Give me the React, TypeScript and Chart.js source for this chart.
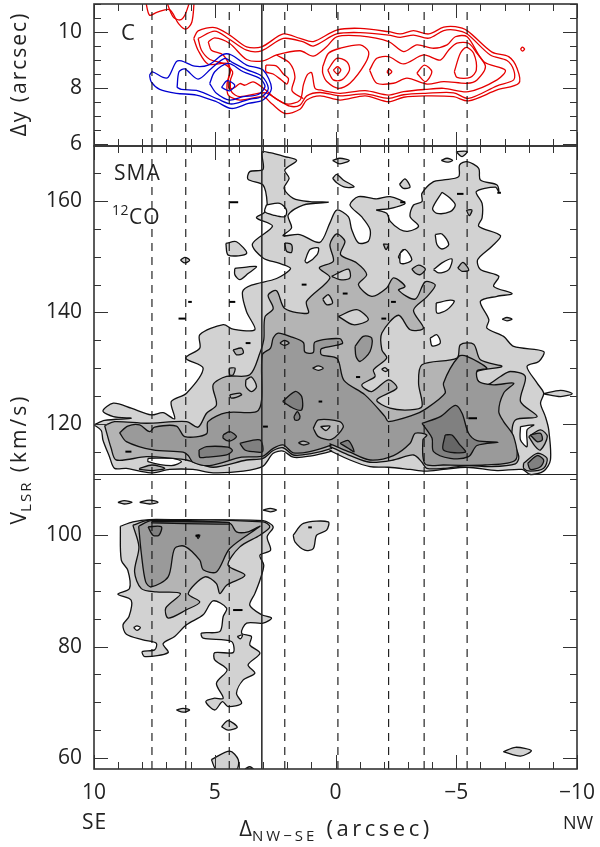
import React, { useEffect, useRef } from "react";
import { Chart, registerables } from "chart.js";

Chart.register(...registerables);

type P = number[];
type Poly = number[][];

const xMajor = [10, 5, 0, -5, -10];
const velocityTicks = [60, 80, 100, 120, 140, 160];
const offsetTicks = [6, 8, 10];
const channelOffsets = [7.6, 6.2, 4.4, 2.1, -0.1, -2.2, -3.67, -5.45];
const sourceOffset = 3.05;
const systemicVelocity = 110.9;

const lightMain: Poly = [
  [10, 119.8], [9.56, 120.6], [8.46, 121], [9.2, 121.3], [9.63, 122.3], [9.2, 123.7], [8.46, 122.8], [7.63, 121.6], [7.14, 122], [6.66, 120.9], [6.8, 124], [6.17, 125.5], [5.48, 130], [6.2, 131.8], [5.62, 133.6], [5.62, 136], [4.65, 137.8], [4.24, 137], [3.34, 136.9], [3.68, 140.1], [3.85, 143.7], [3.48, 144.9], [2.44, 146.1], [1.86, 147.9], [2.31, 148.8], [3, 149.8], [3.44, 152.3], [2.61, 155.5], [3.27, 157], [2.93, 158], [2.83, 159.6], [3, 162.9], [3.62, 163.9], [3.55, 165.3], [3, 165.7], [3.04, 168.8], [2.72, 168.7], [2.1, 168], [1.61, 167.3], [2.1, 165.6], [1.92, 164.1], [2.13, 162.3], [1.75, 160.5], [1.06, 159.9], [0.3, 159.8], [1.34, 159.3], [1.96, 157.5], [1.82, 155.2], [2.17, 153.8], [1.48, 154], [0.65, 152.6], [0.23, 156.1], [-0.05, 158.4], [-0.53, 157.2], [-0.67, 154.9], [-0.95, 152.5], [-1.36, 152.8], [-1.43, 154.9], [-1.08, 157.2], [-0.6, 159.3], [-0.95, 160.8], [-1.7, 160.4], [-2.26, 160.8], [-2.88, 159.6], [-2.19, 158.6], [-1.7, 158.4], [-2.12, 157.8], [-2.26, 156.4], [-2.67, 154.9],
  [-3.03, 154.6], [-3.44, 155.5], [-3.09, 157.2], [-3.23, 159.3], [-3.58, 159.9], [-3.58, 161.4], [-4.06, 163.5], [-4.48, 163.8], [-5.1, 164.4], [-5.14, 166.5], [-5.45, 167.1], [-5.93, 165.9], [-6, 163.8], [-6.69, 162.9], [-6.76, 161.7], [-6.62, 162.5], [-5.83, 161.7], [-6.07, 159.6], [-6.07, 157], [-5.93, 155.5], [-6.83, 153.8], [-6.48, 151.9], [-5.89, 149.5], [-6, 147.7], [-6.76, 146.5], [-6.55, 144.7], [-7.31, 143.4], [-6.69, 142.9], [-6, 142], [-6.35, 138.7],
  [-6.27, 137.2], [-6.96, 135.7], [-7.38, 133.9], [-8.62, 133], [-8.42, 131.2], [-7.93, 130.3], [-8.35, 127.3], [-8.62, 125.5], [-8.49, 123.7], [-8.69, 121.3], [-8.83, 118.9], [-8.9, 113.5], [-8.62, 111.5], [-8.07, 110.9], [-7.73, 111.8], [-6.69, 111.6], [-5.44, 112.2], [-4.47, 111.8], [-3.71, 111.5], [-3.09, 111.8], [-2.19, 112.2], [-1.43, 112.3], [-0.6, 113.5], [0.23, 115.2], [0.16, 115.1], [1.06, 114.2], [1.75, 114], [2.17, 115.1], [2.58, 114.7], [3, 112.4], [3.82, 111.5], [5.07, 111.2], [5.9, 111.8], [6.87, 111.8], [7.56, 111.2], [8.11, 111.5], [8.66, 112], [9.15, 112], [9.36, 114.1], [9.63, 117.1], [9.7, 118.8],
];
const midMain: Poly = [
  [9.56, 119.7], [9.15, 120.4], [7.83, 120.1], [6.17, 120.4], [5.69, 119.4], [5.34, 121.9], [4.93, 123.4], [5.07, 127], [4.51, 128.5], [3.55, 128.8], [3.13, 132.7], [2.97, 135.1], [2.92, 139.2], [2.58, 140.7], [2.79, 143.1], [2.44, 143.9], [2.1, 140.7], [1.13, 139.9], [1.2, 142], [0.23, 146.2], [0.67, 148], [0.09, 149.2], [0.23, 152.2], [-0.05, 154.1], [-0.39, 152.8], [-0.21, 150.4], [-0.88, 148.9], [-1.29, 146.8], [-0.95, 145], [-1.5, 142.9], [-2.12, 144.4], [-2.4, 146.2], [-2.88, 144.7], [-2.61, 144], [-3.3, 142.4], [-3.71, 145.5], [-4.13, 144.9], [-3.78, 142.8], [-3.23, 140.4], [-3.64, 137.2], [-3.09, 136.9], [-2.61, 139.5], [-1.92, 136.3], [-1.92, 133.3], [-2.12, 131.8], [-1.57, 129.7], [-1.64, 128.5], [-1.09, 127], [-1.5, 125.8], [-2.19, 127.9], [-2.54, 126.4], [-1.71, 124.3], [-2.26, 122.8], [-3.09, 122.5], [-3.58, 123.1], [-3.44, 127.3], [-3.58, 130.6], [-5.03, 131.8], [-5.17, 134.2], [-5.72, 134.3], [-6, 131.5], [-6.89, 130.3], [-5.86, 129.4], [-5.86, 127.9], [-6.27, 127], [-6.83, 128.5], [-7.24, 129.4], [-7.86, 128.5], [-7.66, 124], [-8.35, 121.3], [-7.45, 120.7], [-7.31, 117.7], [-7.59, 114.1], [-7.45, 112.8], [-6.41, 112.3], [-5.44, 112.5], [-4.47, 112], [-3.78, 112], [-3.58, 113.1], [-3.23, 114.4], [-2.4, 113.5], [-1.43, 113.1], [-0.6, 114.3], [0.23, 115.9], [0.16, 115.6], [1.06, 114.6], [1.75, 114.4], [2.17, 115.7], [2.58, 115.2], [3, 113.8], [3.68, 113.5], [5.07, 112.2], [6.17, 113.5], [6.73, 113.8], [7.83, 114.1], [9.08, 113.5], [9.29, 115.6],
];
const darkMain: Poly = [
  [8.94, 118.4], [8.6, 119.6], [8.11, 119.8], [7.7, 118.6], [7.49, 119.4], [6.59, 119.6], [6.24, 117.7], [5.34, 118.2], [5.28, 120.4], [4.51, 122], [3.27, 122.2], [3.06, 124.3], [3.03, 132.4], [2.69, 133.6], [2.58, 135.4], [2.37, 136.3], [1.89, 135.7], [1.33, 134.6], [1.27, 132.9], [0.92, 132.8], [0.85, 134.7], [-0.18, 135.3], [-0.28, 134.4], [0.58, 133.5], [0.58, 132.4], [-0.07, 131.7], [-0.35, 127.8], [-1.22, 125.2], [-2.05, 121.3], [-2.19, 120.4], [-3.23, 121.6], [-3.71, 122.6], [-4.54, 125.5], [-4.47, 127.3], [-5.1, 132.1], [-5.44, 132.1], [-6.27, 130], [-5.86, 129.5], [-5.93, 127.6], [-6.55, 127], [-7.38, 127.3], [-6.96, 125.5], [-6.76, 122.2], [-6.96, 120.4], [-7.38, 117.7], [-7.45, 113.5], [-6.2, 112.6], [-4.47, 112.6], [-3.71, 112.8], [-3.62, 117.1], [-3.78, 118], [-3.3, 118.3], [-3.09, 116.5], [-2.4, 114.3], [-1.43, 113.5], [-0.6, 114.9], [0.23, 116.4], [0.16, 116.2], [1.06, 115], [1.75, 114.8], [2.17, 116.2], [2.58, 115.6], [3, 114.2], [3.89, 114], [5.21, 112.5], [5.9, 113.1], [6.1, 114.3], [6.31, 114.9], [7.56, 115.3], [8.66, 116.8],
];
const darkerMain: Poly[] = [
  [[5.65, 115.3], [5.34, 115.9], [4.45, 115.8], [4.27, 115.2], [4.51, 114.4], [5.34, 114], [5.62, 114]],
  [[3.96, 116.5], [3.13, 117.1], [3.02, 115], [3.41, 115], [3.75, 115.3]],
  [[4.65, 118], [4.38, 118.6], [4.1, 117.7], [4.38, 116.9], [4.65, 117.4]],
  [[2.19, 124], [1.68, 125.8], [1.4, 124.9], [1.4, 122.5], [1.75, 122.8]],
  [[1.72, 121.3], [1.58, 122.2], [1.47, 121.3], [1.54, 120.7], [1.68, 120.7]],
  [[-3.58, 120.1], [-4.34, 121.3], [-4.96, 123.3], [-5.24, 121.9], [-5.51, 118.3], [-5.86, 117], [-6.73, 116.7], [-5.86, 116.1], [-5.51, 114.1], [-4.75, 113.8], [-4.06, 115], [-4, 117.4], [-3.78, 118.9]],
  [[-0.19, 116.5], [-0.53, 117], [-0.77, 115], [-0.53, 115.6]],
  [[-8.07, 118], [-8.49, 118.3], [-8.56, 117.1], [-8.35, 116.8]],
  [[-7.96, 112.9], [-8.35, 114.3], [-8.62, 113.5], [-8.49, 112.3], [-8.07, 111.8]],
  [[7.76, 101.5], [7.21, 101.5], [7.31, 100], [7.56, 100]],
  [[5.76, 100], [5.62, 100], [5.69, 99.4]],
  [[7.6, 102.5], [4.4, 102.3], [4.4, 102], [7.6, 102.2]],
];
const darkestMain: Poly[] = [[[-4.54, 118], [-4.82, 118], [-5.1, 116.5], [-5.38, 114.9], [-4.47, 115.3]]];
const darkIslands: Poly[] = [
  [[-0.81, 133.9], [-1.15, 135.7], [-1.5, 135.4], [-1.43, 133], [-1.02, 131.2], [-0.85, 132.1]],
];
const midIslands: Poly[] = [
  [[4.4, 130], [4.16, 130], [4.24, 128.8], [4.38, 128.8]],
  [[4.38, 125.2], [3.96, 125.5], [3.89, 125.2], [4.31, 124.6]],
  [[4.24, 133.3], [3.89, 133.6], [3.82, 132.7], [4.1, 132.4]],
  [[2.1, 152.5], [1.82, 152.2], [1.82, 150.8], [2.03, 151]],
  [[-1.98, 152.3], [-2.19, 152.2], [-2.09, 151.3]],
  [[-3.16, 147.8], [-3.44, 148.5], [-3.72, 147.8], [-3.51, 146.8], [-3.3, 147.1]],
  [[-5.06, 148], [-5.28, 149], [-5.52, 147.6], [-5.24, 147.4]],
  [[-5.42, 158.4], [-5.65, 158.4], [-5.54, 157.4]],
  [[8.11, 112], [7.6, 112.6], [7.07, 112], [7.56, 111.6], [8.11, 111.8]],
  [[-8, 117.7], [-8.49, 118.9], [-8.77, 117.7], [-8.49, 115.3], [-8.28, 115.9]],
  [[-7.79, 112.9], [-8.35, 114.7], [-8.76, 113.8], [-8.62, 112], [-8.07, 111.5], [-7.79, 112]],
  [[0.92, 119.2], [0.71, 120.7], [-0.18, 120.4], [-0.32, 119.4], [0.16, 117.2], [0.71, 117.7]],
  [[2.3, 134.5], [2.12, 135], [1.92, 134.5], [2.12, 134.1]],
  [[1.54, 116.6], [1.34, 116.9], [1.09, 116.5], [1.34, 116.2]],
];
const lightIslands: Poly[] = [
  [[4.54, 152.4], [4.1, 152.7], [3.68, 150.6], [4.44, 150.3]],
  [[4.17, 147.9], [3.62, 148.2], [3.27, 148.2], [3.62, 147], [3.96, 145.9], [4.17, 146.8]],
  [[6.42, 149.4], [6.24, 149.9], [6.04, 149.4], [6.24, 148.9]],
  [[9.01, 105.9], [8.75, 106.2], [8.42, 105.9], [8.75, 105.6]],
  [[8.11, 105.9], [7.7, 106.3], [7.35, 105.9], [7.7, 105.6]],
  [[3, 104.5], [2.7, 104.8], [2.44, 104.5], [2.7, 104.2]],
  [[0.12, 167.3], [-0.18, 167.7], [-0.57, 167.3], [-0.18, 166.7]],
  [[0.12, 164.1], [-0.05, 164.8], [-0.32, 163.8], [-0.77, 162.6], [-0.39, 162.5], [-0.05, 163.3]],
  [[-2.65, 163], [-2.88, 164], [-3.09, 162.5], [-2.81, 162.3]],
  [[-4.38, 167.3], [-4.62, 167.7], [-4.85, 167.3], [-4.62, 167]],
  [[-4.99, 168.9], [-5.24, 168], [-5.45, 168.9]],
  [[3.71, 127.9], [3.48, 128.4], [3.27, 126.7], [3.48, 125.8], [3.71, 126.7]],
  [[0.53, 142.4], [0.3, 143.2], [0.12, 141.7], [0.37, 141.4]],
  [[0.16, 146.5], [-0.53, 147.8], [-0.6, 146.2], [-0.18, 145.9]],
  [[-0.12, 139.3], [-0.88, 140.5], [-1.36, 138.7], [-0.74, 137.8]],
  [[-6.9, 138.8], [-7.1, 139.1], [-7.31, 138.8], [-7.1, 138.5]],
  [[-8.62, 125.4], [-9.32, 126], [-9.8, 125.4], [-9.32, 124.9]],
  [[0.62, 119.5], [0.23, 119.6], [0.4, 118.8]],
  [[0.95, 130], [0.71, 130.4], [0.51, 130], [0.71, 129.6]],
  [[-1.91, 129.8], [-2.05, 130.1], [-2.16, 129.6], [-2.05, 129.4]],
  [[1.75, 100], [1.33, 102.1], [0.3, 102.4], [0.37, 100.9], [0.78, 100], [0.92, 97.6], [1.27, 97.3], [1.68, 98.8]],
  [[6.59, 68.6], [6.31, 68.9], [6.04, 68.6], [6.31, 68.2]],
  [[4.72, 65.6], [4.45, 66.7], [4.07, 65.5], [4.45, 65]],
  [[5.14, 59.7], [4.38, 61.2], [4.03, 59.7], [4.1, 57.9], [4.93, 57.9]],
  [[3.75, 58], [3.55, 58.4], [3.41, 58]],
  [[-6.95, 61.1], [-7.45, 61.9], [-8.11, 61.3], [-7.66, 60.3]],
];
const whiteHoles: Poly[] = [
  [[1.27, 149.2], [1.06, 151.3], [0.71, 151.6], [0.76, 150.4], [1.17, 148.9]],
  [[2.86, 159.3], [2.31, 159.6], [2.03, 158.4], [2.1, 157.2], [2.58, 157.5], [2.93, 158.1]],
  [[-2.6, 150], [-2.81, 151.3], [-3.09, 149.8], [-2.81, 148.8]],
  [[-4.41, 161.6], [-4.75, 160.5], [-4.96, 159.3], [-4.75, 158.1], [-4.2, 157.8], [-4.02, 158.7]],
  [[-4.13, 154], [-4.41, 154.1], [-4.69, 152.2], [-4.41, 151.4], [-4.2, 152.2]],
  [[-4.06, 147.7], [-4.41, 148.9], [-4.82, 149.6], [-4.69, 147.7], [-4.27, 147.1]],
  [[-2.68, 150.7], [-2.89, 151.3], [-3.16, 149.5], [-2.89, 148.8], [-2.68, 148.9]],
  [[-4.17, 141.7], [-4.75, 142.2], [-4.92, 142], [-4.62, 140.5], [-4.2, 139.9]],
  [[-3.92, 135.4], [-4.2, 136], [-4.34, 134.5], [-4, 134]],
  [[7.76, 113.8], [6.73, 113.8], [6.38, 113.2], [6.8, 112.5], [7.76, 113.2]],
  [[-7.66, 119.5], [-8.21, 119.8], [-7.93, 118.9], [-7.93, 115.9], [-7.66, 117.1]],
  [[8.36, 83.4], [8.22, 83.7], [8.08, 83.4], [8.22, 82.9]],
  [[4.07, 81.8], [3.85, 82.1], [3.93, 81.4]],
];
const lightLower: Poly = [
  [8.91, 101.6], [8.39, 102.4], [7.7, 102.8], [5.9, 102.7], [3, 102.6], [2.58, 101.5], [2.83, 99.7], [2.69, 97.3], [3.13, 96.4], [2.97, 94.6], [3.13, 91.9], [3.34, 89.5], [3.55, 87.4], [3.06, 85.7], [2.65, 85.1], [3, 84.2], [3.68, 84.2], [3.89, 82.4], [3.48, 81.8], [3.55, 80.3], [3.13, 78.8], [3.62, 76.7], [3.34, 75.2], [3.82, 74], [4.1, 71.6], [3.89, 69.8], [4.45, 69.2], [4.68, 70.1], [5, 68.6], [5.37, 70.1], [5.04, 70.7], [4.65, 70.7], [4.93, 73.4], [4.49, 75.8], [5, 77.6], [5, 78.9], [4.24, 78.9], [4.31, 80.9], [5.48, 81.5], [5.55, 82.4], [4.79, 82.7], [4.65, 85.4], [4.51, 86.9], [5.07, 88.2], [5.48, 85.7], [6.17, 83.9], [6.66, 81.8], [7.14, 80.5], [6.93, 78.9], [7.9, 78.2], [8, 79.1], [7.49, 79.4], [7.42, 80.6], [7.97, 81.2], [8.66, 82.2], [8.8, 83.9], [8.55, 85.4], [8.46, 88.3], [9.01, 89.4], [8.53, 90.4], [8.6, 93.7], [8.87, 95.5],
];
const midLower: Poly = [
  [8.39, 101.8], [7.7, 102.7], [3, 102.4], [2.72, 101.5], [3.13, 100], [3.96, 97.9], [4.45, 94.6], [3.75, 92.8], [4.51, 91], [4.79, 89.5], [4.93, 91.3], [5.41, 92.5], [6.1, 89.5], [5.62, 88], [6.17, 86.6], [6.93, 85.1], [7.03, 86.9], [6.42, 89.5], [7.42, 89.8], [8.04, 90.4], [8.32, 93.4], [8.14, 97.9],
];
const darkLower: Poly = [
  [8.15, 101.6], [7.63, 102.6], [4.38, 102.1], [4.1, 100.6], [3.62, 100.6], [3.13, 101.6], [4.38, 97.6], [4.93, 93.4], [5.48, 93.8], [5.62, 95.5], [6.24, 98], [6.66, 97.6], [6.93, 92.5], [7.63, 90.7], [7.86, 91.6], [8.04, 96.7],
];
const smallDashes: Poly[] = [
  [[4.38, 159.8], [4.03, 159.8]], [[6.1, 141.9], [5.95, 141.9]], [[4.4, 141.9], [4.15, 141.9]], [[6.5, 138.9], [6.2, 138.9]],
  [[3.72, 134.5], [3.52, 134.5]], [[8.7, 115], [8.45, 115]], [[1.4, 145], [1.2, 145]], [[-0.3, 143.4], [-0.5, 143.4]],
  [[-2.3, 141.9], [-2.5, 141.9]], [[-1.9, 138.9], [-2.1, 138.9]], [[-5.03, 161.3], [-5.3, 161.3]], [[-2.68, 159.8], [-2.89, 159.8]],
  [[0.7, 124], [0.55, 124]], [[3, 119.5], [2.8, 119.5]], [[-0.85, 128.4], [-1.02, 128.4]], [[-5.5, 121], [-5.86, 121]],
  [[1.13, 101.4], [0.98, 101.4]], [[4.24, 86.55], [3.85, 86.55]], [[-6.7, 161.5], [-6.85, 161.5]], [[5.8, 99.9], [5.65, 99.9]],
];

const redContours: Poly[] = [
  [[5.87, 9.77], [5.69, 10.04], [5, 10.16], [4.38, 9.89], [3.68, 9.47], [3.06, 9.47], [2.16, 9.93], [1.47, 9.77], [0.92, 9.66], [-0.05, 10.07], [-1.02, 10.13], [-2.2, 10.01], [-2.68, 9.93], [-3.23, 10.05], [-3.86, 9.93], [-4.48, 10.17], [-4.96, 10.19], [-5.45, 10.05], [-6.48, 9.28], [-7.17, 9.12], [-7.52, 8.7], [-7.59, 8.17], [-6.69, 7.93], [-5.51, 7.54], [-4.89, 7.69], [-3.72, 7.72], [-2.82, 7.67], [-2.2, 7.51], [-1.23, 7.72], [-0.19, 7.57], [0.64, 7.72], [1.19, 7.57], [1.47, 7.24], [2.09, 7.09], [2.65, 7.45], [3, 7.69], [3.96, 7.57], [4.44, 7.75], [4.49, 8.16], [4.38, 8.58], [4.49, 8.88], [5.27, 8.85], [5.69, 9.35]],
  [[5.69, 9.77], [5, 10.03], [4.44, 9.77], [3.68, 9.35], [3.06, 9.33], [2.16, 9.77], [1.33, 9.65], [0.92, 9.5], [-0.05, 9.93], [-1.02, 9.98], [-2.2, 9.89], [-2.68, 9.81], [-3.23, 9.89], [-3.86, 9.78], [-4.48, 10.05], [-4.96, 10.07], [-5.45, 9.93], [-6.41, 9.18], [-7.1, 8.98], [-7.38, 8.64], [-7.38, 8.29], [-6.69, 8.08], [-5.51, 7.63], [-4.89, 7.83], [-3.72, 7.81], [-2.82, 7.76], [-2.2, 7.63], [-1.23, 7.79], [-0.19, 7.72], [0.64, 7.84], [1.19, 7.72], [1.47, 7.39], [1.89, 7.35], [2.37, 7.57], [2.92, 7.83], [3.96, 7.69], [4.31, 7.87], [4.35, 8.28], [4.26, 8.58], [4.65, 8.88], [5.2, 9.02], [5.55, 9.35]],
  [[5.27, 9.65], [5, 9.79], [4.38, 9.59], [3.68, 9.02], [3, 8.97], [2.44, 9.18], [1.47, 9.33], [0.92, 9.14], [0.36, 9.48], [-0.05, 9.83], [-1.02, 9.86], [-2.2, 9.66], [-2.82, 9.3], [-3.37, 9.54], [-4.06, 9.42], [-4.62, 9.54], [-4.96, 9.83], [-5.45, 9.83], [-6.14, 8.94], [-7.03, 8.64], [-6.69, 8.29], [-5.51, 7.87], [-4.48, 7.99], [-3.72, 7.95], [-2.82, 7.87], [-2.2, 7.75], [-1.23, 7.91], [-0.19, 7.81], [0.64, 7.93], [0.85, 7.99], [0.99, 8.55], [1.17, 8.47], [1.33, 8.11], [1.47, 7.57], [2.02, 7.43], [2.58, 7.69], [2.92, 7.95], [3.41, 8.22], [3.75, 8.1], [3.96, 8.16], [4.17, 8.02], [4.4, 7.98], [4.44, 8.28], [4.35, 8.64], [4.65, 9.18], [5.14, 9.35]],
  [[2.88, 8.82], [2.44, 8.78], [2.16, 8.5], [1.95, 8.34], [2.02, 8.14], [2.23, 8.28], [2.58, 8.5], [2.88, 8.58]],
  [[0.53, 8.76], [0.29, 9.24], [-0.19, 9.42], [-1.02, 9.54], [-1.37, 9.3], [-1.23, 8.88], [-0.6, 8.17], [-0.12, 7.99], [0.36, 8.23], [0.53, 8.53]],
  [[0.32, 8.64], [-0.05, 9.06], [-0.47, 8.94], [-0.58, 8.64], [-0.26, 8.29], [0.09, 8.29]],
  [[0.09, 8.64], [-0.08, 8.76], [-0.22, 8.64], [-0.08, 8.5]],
  [[-1.41, 8.64], [-1.71, 9.06], [-2.2, 9.12], [-2.82, 8.86], [-3.65, 9.18], [-4.34, 9], [-4.69, 9.36], [-5.03, 9.6], [-5.51, 9.6], [-5.86, 9.24], [-6.21, 8.76], [-5.86, 8.29], [-5.45, 8.17], [-4.48, 8.23], [-3.79, 8.14], [-2.96, 8.35], [-2.4, 8.17], [-1.71, 8.17]],
  [[-4.92, 8.58], [-5.17, 9.24], [-5.42, 9.45], [-5.72, 9.24], [-5.83, 8.64], [-5.58, 8.38], [-5.03, 8.38]],
  [[-3.37, 8.53], [-3.68, 8.82], [-3.99, 8.58], [-3.72, 8.23]],
  [[-2.13, 8.58], [-2.22, 8.67], [-2.33, 8.58], [-2.22, 8.49]],
  [[-7.66, 9.39], [-7.74, 9.46], [-7.83, 9.39], [-7.74, 9.32]],
];
const redOpen: Poly[] = [
  [[7.86, 11.1], [7.7, 10.6], [7.4, 10.7], [6.87, 10.8], [6.5, 10.3], [6.2, 10.1], [5.95, 10.35], [5.85, 11.1]],
  [[7, 11.1], [6.73, 10.55], [6.45, 10.43], [6.24, 10.6], [6.03, 11.1]],
  [[2.44, 9.18], [1.89, 8.88], [1.68, 8.4], [1.8, 7.9], [1.33, 7.62]],
];
const blueContours: Poly[] = [
  [[7.7, 8.46], [7.58, 8.58], [7.14, 8.38], [6.93, 8.38], [6.59, 8.94], [6.38, 8.97], [5.83, 8.78], [5.27, 8.82], [4.65, 9.2], [4.31, 9.18], [3.68, 8.82], [3, 8.64], [2.65, 7.99], [3, 7.57], [3.61, 7.45], [4.31, 7.27], [4.93, 7.51], [5.76, 7.75], [6.59, 7.81], [7.28, 7.95], [7.63, 8.22]],
  [[6.56, 8.02], [6.48, 8.58], [6.24, 8.68], [5.69, 8.32], [5.14, 8.7], [4.58, 9.06], [4.24, 8.9], [3.68, 8.66], [3.06, 8.43], [2.78, 7.99], [3.06, 7.69], [3.61, 7.59], [4.31, 7.43], [4.86, 7.6], [5.69, 7.9], [6.38, 7.95]],
  [[5.21, 8.16], [5, 8.58], [4.44, 8.88], [3.82, 8.58], [3.13, 8.34], [2.92, 8.05], [3.2, 7.77], [3.82, 7.69], [4.38, 7.57], [4.93, 7.81]],
  [[4.72, 8.02], [4.49, 8.26], [4.17, 8.1], [4.38, 7.9]],
];

const GRAY_L = "#d2d2d2";
const GRAY_M = "#b4b4b4";
const GRAY_D = "#9a9a9a";
const GRAY_X = "#808080";
const GRAY_Z = "#666666";
const FONT = '"Open Sans", sans-serif';
const INK = "#222222";

const toXY = (p: Poly, close: boolean) => {
  const pts = p.map((q: P) => ({ x: q[0], y: q[1] }));
  if (close) pts.push({ x: p[0][0], y: p[0][1] });
  return pts;
};
const filled = (p: Poly, color: string) => ({
  data: toXY(p, true), showLine: true, fill: "shape", backgroundColor: color, borderColor: "#111111",
  borderWidth: 1.3, pointRadius: 0, tension: 0.3,
});
const stroked = (p: Poly, color: string, close: boolean, w = 1.3) => ({
  data: toXY(p, close), showLine: true, fill: false, borderColor: color, borderWidth: w, pointRadius: 0, tension: 0.3,
});
const straight = (p: Poly, color: string, w: number, dash: number[] = []) => ({
  data: toXY(p, false), showLine: true, fill: false, borderColor: color, borderWidth: w, borderDash: dash, pointRadius: 0, tension: 0,
});

const tickRange = (lo: number, hi: number, step: number) => {
  const out: number[] = [];
  for (let v = lo; v <= hi + 1e-6; v += step) out.push(Math.round(v * 100) / 100);
  return out;
};

const tickPlugin = (xMinor: number[], yMinor: number[], xMaj: number[], yMaj: number[]) => ({
  id: "frameTicks",
  afterDatasetsDraw(chart: any) {
    const { ctx, chartArea: a, scales } = chart;
    ctx.save();
    ctx.strokeStyle = "#333333";
    ctx.lineWidth = 1;
    ctx.beginPath();
    for (const v of xMinor) {
      const len = xMaj.includes(v) ? 14 : 7;
      const px = Math.round(scales.x.getPixelForValue(v)) + 0.5;
      ctx.moveTo(px, a.top); ctx.lineTo(px, a.top + len);
      ctx.moveTo(px, a.bottom); ctx.lineTo(px, a.bottom - len);
    }
    for (const v of yMinor) {
      const len = yMaj.includes(v) ? 14 : 7;
      const py = Math.round(scales.y.getPixelForValue(v)) + 0.5;
      ctx.moveTo(a.left, py); ctx.lineTo(a.left + len, py);
      ctx.moveTo(a.right, py); ctx.lineTo(a.right - len, py);
    }
    ctx.stroke();
    ctx.lineWidth = 1.6;
    ctx.strokeRect(a.left, a.top, a.right - a.left, a.bottom - a.top);
    ctx.restore();
  },
});

const run = (ctx: any, parts: [string, number, number, number][], x: number, y: number, center: boolean) => {
  let total = 0;
  for (const [t, s, , ls] of parts) { ctx.font = `${s}px ${FONT}`; ctx.letterSpacing = `${ls}px`; total += ctx.measureText(t).width; }
  let cx = center ? x - total / 2 : x;
  for (const [t, s, dy, ls] of parts) {
    ctx.font = `${s}px ${FONT}`;
    ctx.letterSpacing = `${ls}px`;
    ctx.fillText(t, cx, y + dy);
    cx += ctx.measureText(t).width;
  }
  ctx.letterSpacing = "0px";
};

const labelsPlugin = {
  id: "pageLabels",
  afterDraw(chart: any) {
    const ctx = chart.ctx as CanvasRenderingContext2D;
    ctx.save();
    ctx.fillStyle = INK;
    ctx.textBaseline = "alphabetic";
    ctx.textAlign = "left";
    run(ctx, [["C", 22, 0, 0]], 121, 40, false);
    run(ctx, [["SMA", 21, 0, 1]], 114, 180, false);
    run(ctx, [["12", 14, -9, 0.5], ["CO", 21, 0, 1]], 112, 224, false);
    run(ctx, [["SE", 21, 0, 1]], 82, 829, false);
    run(ctx, [["NW", 18, 0, 0]], 563, 829, false);
    run(ctx, [["Δ", 22, 0, 0], ["NW−SE", 15, 5, 3], [" (arcsec)", 22, 0, 3.5]], 336, 836, true);
    ctx.translate(26, 0);
    ctx.rotate(-Math.PI / 2);
    run(ctx, [["Δy (arcsec)", 21, 0, 2]], -74, 0, true);
    run(ctx, [["V", 21, 0, 0], ["LSR", 15, 5, 2], [" (km/s)", 21, 0, 3]], -459, 0, true);
    ctx.restore();
  },
};

const xScale = (showLabels: boolean) => ({
  type: "linear", min: -10, max: 10, reverse: true, display: showLabels,
  afterBuildTicks(s: any) { s.ticks = xMajor.map((value) => ({ value })).reverse(); },
  afterFit(s: any) { s.height = showLabels ? 78 : 0; },
  grid: { display: false, drawTicks: false }, border: { display: false },
  ticks: {
    padding: 11, maxRotation: 0, autoSkip: false, color: INK, font: { family: FONT, size: 21 },
    callback: (v: number) => String(v).replace("-", "−"),
  },
});
const yScale = (min: number, max: number, major: number[]) => ({
  type: "linear", min, max,
  afterBuildTicks(s: any) { s.ticks = major.map((value) => ({ value })); },
  afterFit(s: any) { s.width = 94; },
  grid: { display: false, drawTicks: false }, border: { display: false },
  ticks: { padding: 12, color: INK, autoSkip: false, font: { family: FONT, size: 21 } },
});

export default function App() {
  const topRef = useRef<HTMLCanvasElement>(null);
  const mainRef = useRef<HTMLCanvasElement>(null);

  useEffect(() => {
    const vertical = (ymin: number, ymax: number) => channelOffsets.map((d) => straight([[d, ymin], [d, ymax]], "#111111", 1.1, [8, 6]));

    const topPaint = [
      ...redContours.map((p) => stroked(p, "#e60000", true)),
      ...redOpen.map((p) => stroked(p, "#e60000", false)),
      ...blueContours.map((p) => stroked(p, "#0000d0", true)),
      ...vertical(5.93, 10.8),
      straight([[sourceOffset, 5.93], [sourceOffset, 11]], "#222222", 1.5),
    ];
    const mainPaint = [
      filled(lightMain, GRAY_L), filled(lightLower, GRAY_L),
      ...lightIslands.slice(0, 11).map((p) => filled(p, GRAY_L)),
      ...lightIslands.slice(20).map((p) => filled(p, GRAY_L)),
      ...whiteHoles.map((p) => filled(p, "#ffffff")),
      filled(midMain, GRAY_M), filled(midLower, GRAY_M),
      ...lightIslands.slice(11, 15).map((p) => filled(p, GRAY_L)),
      filled(lightIslands[15], GRAY_L), filled(lightIslands[16], GRAY_L),
      filled(darkMain, GRAY_D), filled(darkLower, GRAY_D),
      ...darkIslands.map((p) => filled(p, GRAY_D)),
      ...midIslands.map((p) => filled(p, GRAY_M)),
      ...lightIslands.slice(17, 20).map((p) => filled(p, GRAY_L)),
      ...darkerMain.map((p) => filled(p, GRAY_X)),
      ...darkestMain.map((p) => filled(p, GRAY_Z)),
      ...smallDashes.map((p) => straight(p, "#000000", 2)),
      ...vertical(58, 169.9),
      straight([[sourceOffset, 58], [sourceOffset, 169.9]], "#222222", 1.5),
      straight([[10, systemicVelocity], [-10, systemicVelocity]], "#222222", 1.2),
    ];

    const base = {
      responsive: false, animation: false as const, devicePixelRatio: 1,
      plugins: { legend: { display: false }, tooltip: { enabled: false } },
    };
    const xTicks = tickRange(-10, 10, 1);
    const top = new Chart(topRef.current as any, {
      type: "scatter",
      data: { datasets: [...topPaint].reverse() as any },
      options: {
        ...base,
        layout: { padding: { left: 0, right: 23, top: 44, bottom: 691 } },
        scales: { x: xScale(false), y: yScale(5.93, 11, offsetTicks) } as any,
      },
      plugins: [tickPlugin(xTicks, tickRange(6, 11, 0.5), xMajor, offsetTicks)],
    } as any);
    const main = new Chart(mainRef.current as any, {
      type: "scatter",
      data: { datasets: [...mainPaint].reverse() as any },
      options: {
        ...base,
        layout: { padding: { left: 0, right: 23, top: 146, bottom: 0 } },
        scales: { x: xScale(true), y: yScale(58, 169.9, velocityTicks) } as any,
      },
      plugins: [tickPlugin(xTicks, tickRange(60, 165, 5), xMajor, velocityTicks), labelsPlugin],
    } as any);
    return () => { top.destroy(); main.destroy(); };
  }, []);

  return (
    <div style={{ position: "fixed", left: 0, top: 0, width: 600, height: 847, overflow: "hidden", background: "#fff" }}>
      <canvas ref={topRef} width={600} height={877} style={{ position: "absolute", left: 0, top: -40, width: 600, height: 877 }} />
      <canvas ref={mainRef} width={600} height={847} style={{ position: "absolute", left: 0, top: 0, width: 600, height: 847 }} />
    </div>
  );
}
